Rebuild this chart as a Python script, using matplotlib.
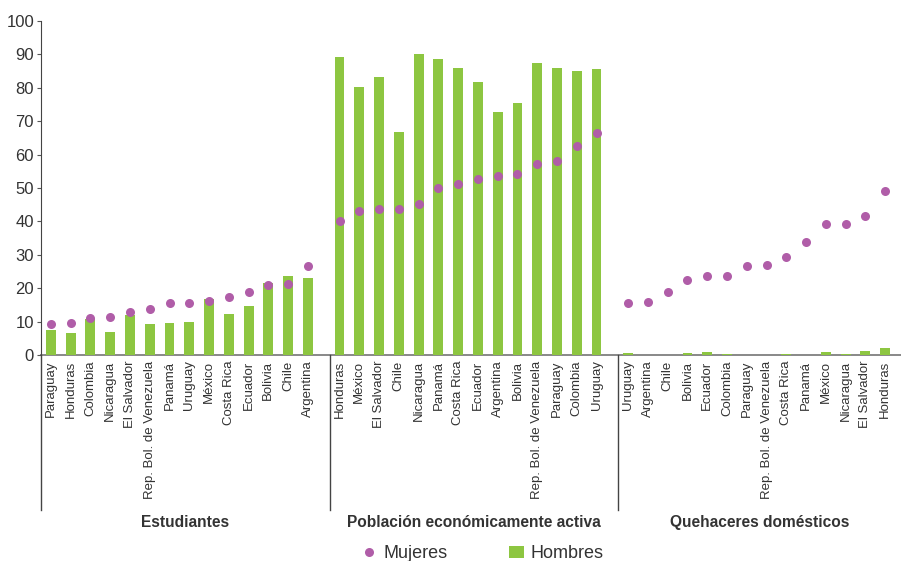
import matplotlib.pyplot as plt
from matplotlib import transforms

plt.rcParams['font.family'] = ['Liberation Sans', 'DejaVu Sans']

GREEN = '#8dc641'
PURPLE = '#b05da8'
TEXT = '#333333'

groups = ['Estudiantes', 'Población económicamente activa', 'Quehaceres domésticos']

est_countries = ['Paraguay', 'Honduras', 'Colombia', 'Nicaragua', 'El Salvador',
                 'Rep. Bol. de Venezuela', 'Panamá', 'Uruguay', 'México', 'Costa Rica',
                 'Ecuador', 'Bolivia', 'Chile', 'Argentina']
est_hombres = [7.5, 6.5, 10.8, 6.9, 12.0, 9.3, 9.6, 9.9, 16.8, 12.3, 14.7, 21.6, 23.7, 23.1]
est_mujeres = [9.3, 9.6, 11.1, 11.3, 12.9, 13.7, 15.5, 15.5, 16.2, 17.5, 18.8, 21.0, 21.4, 26.7]

pea_countries = ['Honduras', 'México', 'El Salvador', 'Chile', 'Nicaragua', 'Panamá',
                 'Costa Rica', 'Ecuador', 'Argentina', 'Bolivia', 'Rep. Bol. de Venezuela',
                 'Paraguay', 'Colombia', 'Uruguay']
pea_hombres = [89.2, 80.2, 83.2, 66.7, 90.1, 88.6, 85.9, 81.7, 72.7, 75.4, 87.4, 85.9, 85.0, 85.6]
pea_mujeres = [40.1, 43.1, 43.7, 43.7, 45.3, 50.1, 51.2, 52.6, 53.6, 54.1, 57.2, 58.2, 62.6, 66.6]

qd_countries = ['Uruguay', 'Argentina', 'Chile', 'Bolivia', 'Ecuador', 'Colombia', 'Paraguay',
                'Rep. Bol. de Venezuela', 'Costa Rica', 'Panamá', 'México', 'Nicaragua',
                'El Salvador', 'Honduras']
qd_hombres = [0.7, 0.1, 0.0, 0.7, 1.0, 0.4, 0.1, 0.1, 0.4, 0.1, 1.0, 0.4, 1.3, 2.2]
qd_mujeres = [15.6, 15.8, 18.9, 22.4, 23.7, 23.8, 26.6, 27.0, 29.4, 33.7, 39.3, 39.3, 41.5, 49.0]

data = [(est_countries, est_hombres, est_mujeres),
        (pea_countries, pea_hombres, pea_mujeres),
        (qd_countries, qd_hombres, qd_mujeres)]

fig = plt.figure(figsize=(9.01, 5.61), dpi=100)
ax = fig.add_axes([0.0455, 0.3672, 0.9545, 0.5954])

step = 14.6
xs_all, labels_all, seps = [], [], []
for g, (countries, hombres, mujeres) in enumerate(data):
    xs = [g * step + i for i in range(len(countries))]
    ax.bar(xs, hombres, width=0.5, color=GREEN, zorder=2,
           label='Hombres' if g == 0 else None)
    ax.plot(xs, mujeres, 'o', color=PURPLE, markersize=6.5, markeredgewidth=0, zorder=3,
            label='Mujeres' if g == 0 else None)
    xs_all += xs
    labels_all += countries
    seps.append(g * step - 0.5)

ax.set_xlim(-0.5, 43.0)
ax.set_ylim(0, 100)
ax.set_yticks(range(0, 101, 10))
ax.set_xticks(xs_all)
ax.set_xticklabels(labels_all, rotation=90, fontsize=9.5, color=TEXT)
ax.tick_params(axis='x', length=0, pad=4)
ax.tick_params(axis='y', length=3, color='#555555', labelsize=12, labelcolor=TEXT, pad=2)

for s in ['top', 'right']:
    ax.spines[s].set_visible(False)
ax.spines['left'].set_color('#444444')
ax.spines['bottom'].set_color('#888888')
ax.spines['bottom'].set_linewidth(1.4)
ax.spines['bottom'].set_zorder(1)

# group separators and labels below the axis
trans = transforms.blended_transform_factory(ax.transData, ax.transAxes)
ends = seps + [43.0]
for g, name in enumerate(groups):
    ax.plot([seps[g], seps[g]], [0, -0.464], color='#444444', lw=1,
            transform=trans, clip_on=False)
    ax.text((ends[g] + ends[g + 1]) / 2, -0.5, name, transform=trans,
            ha='center', va='center', fontsize=11.2, fontweight='bold', color=TEXT)

handles, labels = ax.get_legend_handles_labels()
order = [labels.index('Mujeres'), labels.index('Hombres')]
leg = fig.legend([handles[i] for i in order], [labels[i] for i in order],
                 loc='center', bbox_to_anchor=(0.536, 0.013), ncol=2, frameon=False,
                 fontsize=13, columnspacing=3.4, handlelength=0.8, handletextpad=0.4,
                 labelcolor=TEXT)

fig.savefig('out.png', dpi=100)
